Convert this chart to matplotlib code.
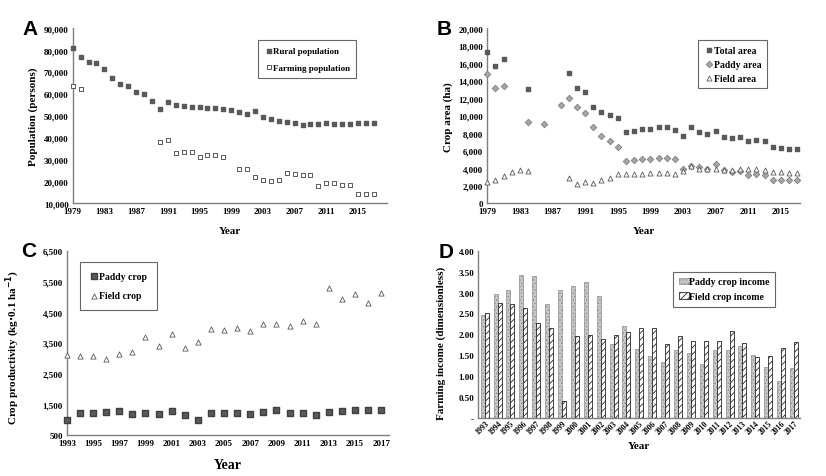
import numpy as np
import matplotlib
matplotlib.use('Agg')
import matplotlib.pyplot as plt
from matplotlib.ticker import FuncFormatter

plt.rcParams['font.family'] = ['Liberation Serif', 'DejaVu Serif']
plt.rcParams['font.weight'] = 'bold'
plt.rcParams['hatch.linewidth'] = 0.6

nan = np.nan

# Panel A: population
years_a = list(range(1979, 2018))
rural_pop = [81000, 77000, 74500, 74000, 71300, 67200, 64500, 63700, 61000, 60000,
             56500, 53000, 56000, 54800, 54600, 54000, 53800, 53700, 53500, 53000,
             52700, 51600, 50800, 52300, 49200, 48300, 47500, 47000, 46500, 45700,
             46200, 46200, 46600, 46200, 46200, 46300, 46500, 46800, 46700]
farming_pop = [63500, 62000, nan, nan, nan, nan, nan, nan, nan, nan,
               nan, 38000, 39000, 33000, 33500, 33500, 31000, 32000, 31800, 31200,
               nan, 25500, 25500, 22000, 20500, 20000, 20500, 24000, 23500, 23000,
               22700, 18000, 19000, 19000, 18500, 18500, 14000, 14300, 14300]

# Panel B: crop area
years_b = list(range(1979, 2018))
total_area = [17300, 15700, 16500, nan, nan, 13000, nan, nan, nan, nan,
              14900, 13200, 12700, 11000, 10400, 10100, 9700, 8100, 8200, 8500,
              8500, 8700, 8700, 8400, 7700, 8700, 8100, 7900, 8300, 7600,
              7400, 7600, 7100, 7200, 7100, 6400, 6300, 6200, 6200]
paddy_area = [14800, 13100, 13400, nan, nan, 9300, nan, 9100, nan, 11200,
              12000, 11000, 10300, 8700, 7700, 7100, 6400, 4800, 4900, 5100,
              5000, 5200, 5200, 5100, 3900, 4300, 4100, 3900, 4500, 3800,
              3600, 3700, 3200, 3300, 3200, 2700, 2700, 2700, 2700]
field_area = [2400, 2600, 3100, 3600, 3800, 3700, nan, nan, nan, nan,
              2900, 2200, 2400, 2300, 2700, 2900, 3300, 3300, 3300, 3300,
              3500, 3500, 3400, 3300, 3700, 4300, 3900, 3900, 3900, 3800,
              3800, 3900, 3900, 3900, 3800, 3600, 3600, 3500, 3500]

# Panel C: productivity
years_c = list(range(1993, 2018))
paddy_prod = [1000, 1200, 1200, 1250, 1280, 1180, 1220, 1170, 1270, 1150,
              1000, 1220, 1200, 1200, 1170, 1250, 1300, 1200, 1200, 1160,
              1250, 1270, 1330, 1320, 1320]
field_prod = [3100, 3080, 3080, 2970, 3130, 3220, 3700, 3400, 3800, 3350,
              3520, 3960, 3930, 3970, 3900, 4120, 4130, 4060, 4220, 4120,
              5300, 4920, 5080, 4800, 5120]

# Panel D: income
paddy_income = [2.47, 2.97, 3.07, 3.43, 3.40, 2.73, 3.07, 3.16, 3.26, 2.92,
                1.76, 2.21, 1.64, 1.48, 1.33, 1.62, 1.55, 1.29, 1.62, 1.62,
                1.72, 1.50, 1.22, 0.89, 1.20]
field_income = [2.52, 2.75, 2.72, 2.64, 2.28, 2.16, 0.40, 1.95, 1.99, 1.88,
                1.98, 2.05, 2.14, 2.15, 1.76, 1.97, 1.83, 1.83, 1.83, 2.07,
                1.79, 1.45, 1.47, 1.68, 1.81]

SPINE = '#7f7f7f'
DARK = '#595959'
tick_fs = 6.5
lab_fs = 8


def style(ax):
    for s in ['top', 'right']:
        ax.spines[s].set_visible(False)
    for s in ['left', 'bottom']:
        ax.spines[s].set_color(SPINE)
        ax.spines[s].set_linewidth(1.0)
    ax.tick_params(length=0, labelsize=tick_fs, pad=3)
    for t in ax.get_xticklabels() + ax.get_yticklabels():
        t.set_fontweight('bold')


def legend(ax, fs=6.5, spacing=0.8, pad=0.8, **kw):
    leg = ax.legend(frameon=True, fancybox=False, fontsize=fs, handletextpad=0.0,
                    handlelength=1.0, borderpad=pad, labelspacing=spacing, **kw)
    leg.get_frame().set_edgecolor('#404040')
    leg.get_frame().set_linewidth(0.8)
    for t in leg.get_texts():
        t.set_fontweight('bold')
    return leg


comma = FuncFormatter(lambda v, p: f'{int(v):,}')

fig = plt.figure(figsize=(8.26, 4.77), dpi=100)

# A
ax = fig.add_axes([0.088, 0.572, 0.38, 0.367])
ax.scatter(years_a, rural_pop, marker='s', s=8, color=DARK, label='Rural population',
           clip_on=False, zorder=3)
ax.scatter(years_a, farming_pop, marker='s', s=11, facecolor='white', edgecolor='#404040',
           linewidth=0.6, label='Farming population', clip_on=False, zorder=3)
ax.set_xlim(1979, 2018.6)
ax.set_ylim(10000, 90000)
ax.set_xticks(range(1979, 2016, 4))
ax.set_yticks(range(10000, 90001, 10000))
ax.yaxis.set_major_formatter(comma)
ax.set_xlabel('Year', fontsize=lab_fs, fontweight='bold', labelpad=8)
ax.set_ylabel('Population (persons)', fontsize=lab_fs, fontweight='bold')
style(ax)
legend(ax, loc='upper left', bbox_to_anchor=(0.575, 0.955), spacing=0.9, pad=0.7)
fig.text(0.027, 0.958, 'A', fontsize=15, fontweight='bold', family='Liberation Sans', va='top')

# B
ax = fig.add_axes([0.59, 0.572, 0.378, 0.367])
ax.scatter(years_b, total_area, marker='s', s=10, color=DARK, label='Total area',
           clip_on=False, zorder=3)
ax.scatter(years_b, paddy_area, marker='D', s=11, facecolor='#a6a6a6', edgecolor='#7f7f7f',
           linewidth=0.6, label='Paddy area', clip_on=False, zorder=3)
ax.scatter(years_b, field_area, marker='^', s=13, facecolor='white', edgecolor='#595959',
           linewidth=0.6, label='Field area', clip_on=False, zorder=3)
ax.set_xlim(1979, 2017.3)
ax.set_ylim(0, 20000)
ax.set_xticks(range(1979, 2016, 4))
ax.set_yticks(range(0, 20001, 2000))
ax.yaxis.set_major_formatter(comma)
ax.set_xlabel('Year', fontsize=lab_fs, fontweight='bold', labelpad=8)
ax.set_ylabel('Crop area (ha)', fontsize=lab_fs, fontweight='bold')
style(ax)
legend(ax, fs=7, loc='upper left', bbox_to_anchor=(0.66, 0.96), spacing=0.5, pad=0.6)
fig.text(0.528, 0.958, 'B', fontsize=15, fontweight='bold', family='Liberation Sans', va='top')

# C
ax = fig.add_axes([0.081, 0.086, 0.39, 0.386])
ax.scatter(years_c, paddy_prod, marker='s', s=19, color=DARK, edgecolor='#404040',
           label='Paddy crop', clip_on=False, zorder=3)
ax.scatter(years_c, field_prod, marker='^', s=14, facecolor='white', edgecolor='#595959',
           linewidth=0.6, label='Field crop', clip_on=False, zorder=3)
ax.set_xlim(1993, 2017.6)
ax.set_ylim(500, 6500)
ax.set_xticks(range(1993, 2018, 2))
ax.set_yticks(range(500, 6501, 1000))
ax.yaxis.set_major_formatter(comma)
ax.set_xlabel('Year', fontsize=10, fontweight='bold', labelpad=8)
ax.set_ylabel('Crop productivity (kg$\\cdot$0.1 ha$^{-1}$)', fontsize=lab_fs, fontweight='bold')
ax.yaxis.set_label_coords(-0.14, 0.48)
style(ax)
legend(ax, fs=7, loc='upper left', bbox_to_anchor=(0.025, 0.967), spacing=1.1, pad=1.0)
fig.text(0.025, 0.492, 'C', fontsize=15, fontweight='bold', family='Liberation Sans', va='top')

# D
ax = fig.add_axes([0.579, 0.122, 0.39, 0.35])
x = np.arange(len(years_c))
w = 0.31
ax.bar(x - w / 2, paddy_income, w, color='#c8c8c8', edgecolor='#8c8c8c', linewidth=0.5,
       hatch='.....', label='Paddy crop income')
ax.bar(x + w / 2, field_income, w, color='white', edgecolor='#262626', linewidth=0.6,
       hatch='/////', label='Field crop income')
ax.set_xlim(-0.5, len(years_c) - 0.5)
ax.set_ylim(0, 4)
ax.set_xticks(x)
ax.set_xticklabels([str(y) for y in years_c], rotation=45, ha='right', rotation_mode='anchor')
ax.set_yticks(np.arange(0, 4.01, 0.5))
ax.yaxis.set_major_formatter(FuncFormatter(lambda v, p: '-' if v == 0 else f'{v:.2f}'))
ax.set_xlabel('Year', fontsize=lab_fs, fontweight='bold', labelpad=4)
ax.set_ylabel('Farming income (dimensionless)', fontsize=lab_fs, fontweight='bold')
ax.yaxis.set_label_coords(-0.1, 0.45)
style(ax)
ax.tick_params(axis='x', labelsize=5.5, pad=1)
legend(ax, fs=7, loc='upper left', bbox_to_anchor=(0.59, 0.905), spacing=0.6, pad=0.6)
fig.text(0.531, 0.49, 'D', fontsize=15, fontweight='bold', family='Liberation Sans', va='top')

plt.savefig('out.png', dpi=100)
plt.close()
